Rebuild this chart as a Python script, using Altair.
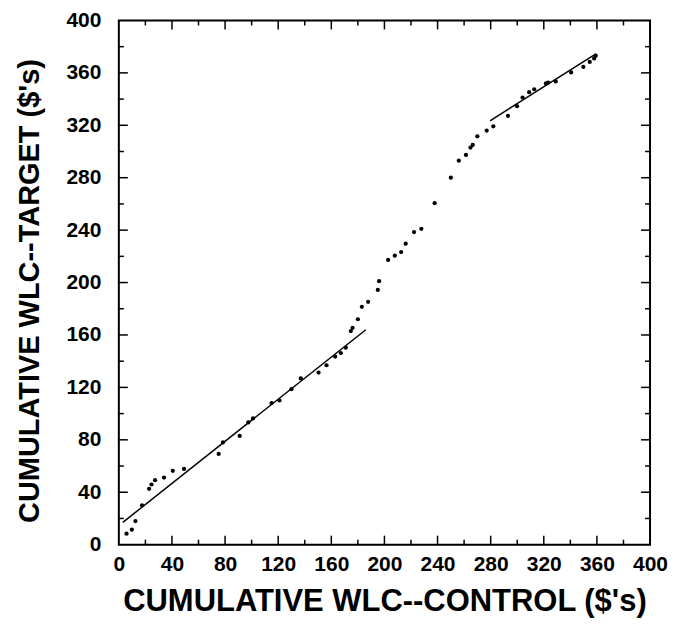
import altair as alt
import pandas as pd

# Observed points (control, target)
ctrl = [5.8, 9.8, 12.5, 17.5, 22.8, 24.6, 27.3, 34, 40.6, 49.1, 75.2, 78.4, 91, 97.5,
        101, 115, 121, 130, 137, 150.4, 156.4, 162.9, 167.2, 170.9, 174.7, 176, 180,
        183, 187.7, 195, 196, 202.8, 207.8, 212.6, 216, 222.3, 227.8, 237.8, 250, 256,
        261.4, 264.8, 266.5, 270, 277, 282, 293, 299.8, 304, 309, 312.8, 321.6, 323.3,
        329, 340.6, 349.8, 354.6, 357.9, 359.2]
target = [8.4, 11.4, 18, 30, 42.6, 45.9, 49.2, 51.2, 56.3, 57.8, 69.2, 78, 83, 93.3,
          96.3, 108, 110, 118.6, 126.8, 131.3, 136.9, 143.5, 146.2, 150.3, 163, 165.5, 172,
          181.5, 185.3, 194.4, 201, 217.3, 220.5, 223.3, 229.7, 238.5, 241, 260.6, 280, 293,
          297.4, 303, 305, 311.6, 316, 319.2, 327.2, 334.6, 341.2, 345.3, 347.5, 351.9, 352.6,
          353.5, 360.3, 364.5, 368.3, 371, 373]

# Fitted segments
fit_seg = ["lower", "lower", "upper", "upper"]
fit_x = [3, 186, 279.5, 359.5]
fit_y = [17, 164, 323.4, 374.6]

tick_labels = list(range(0, 401, 40))
minor_ticks = list(range(20, 400, 40))
major_ticks = list(range(40, 400, 40))

W, H = 532, 525
FONT = "Liberation Sans"

pts = pd.DataFrame({"x": ctrl, "y": target})
fit = pd.DataFrame({"seg": fit_seg, "x": fit_x, "y": fit_y})
minor_df = pd.DataFrame({"v": minor_ticks})
major_df = pd.DataFrame({"v": major_ticks})

xs = alt.Scale(domain=[0, 400], nice=False, zero=True)
ys = alt.Scale(domain=[0, 400], nice=False, zero=True)

points = alt.Chart(pts).mark_circle(size=18, color="black", opacity=1).encode(
    x=alt.X("x:Q", scale=xs, axis=alt.Axis(
        title="CUMULATIVE WLC--CONTROL ($'s)", values=tick_labels, grid=False,
        ticks=False, tickSize=0, domain=False, labelFont=FONT, labelFontSize=21,
        labelFontWeight="bold", labelColor="black", labelPadding=9,
        titleFont=FONT, titleFontSize=31, titleFontWeight="bold", titleColor="black",
        titlePadding=12, labelFlush=False, labelOverlap=False)),
    y=alt.Y("y:Q", scale=ys, axis=alt.Axis(
        title="CUMULATIVE WLC--TARGET ($'s)", values=tick_labels, grid=False,
        ticks=False, tickSize=0, domain=False, labelFont=FONT, labelFontSize=21,
        labelFontWeight="bold", labelColor="black", labelPadding=18,
        titleFont=FONT, titleFontSize=29, titleFontWeight="bold", titleColor="black",
        titlePadding=21, titleY=H / 2 + 8, labelFlush=False, labelOverlap=False)),
)

lines = alt.Chart(fit).mark_line(color="black", strokeWidth=1.5).encode(
    x=alt.X("x:Q", scale=xs),
    y=alt.Y("y:Q", scale=ys),
    detail="seg:N",
)


def tick_layers(df, length):
    bottom = alt.Chart(df).mark_rule(color="black", strokeWidth=1.5).encode(
        x=alt.X("v:Q", scale=xs), y=alt.value(H), y2=alt.value(H - length))
    top = alt.Chart(df).mark_rule(color="black", strokeWidth=1.5).encode(
        x=alt.X("v:Q", scale=xs), y=alt.value(0), y2=alt.value(length))
    left = alt.Chart(df).mark_rule(color="black", strokeWidth=1.5).encode(
        y=alt.Y("v:Q", scale=ys), x=alt.value(0), x2=alt.value(length))
    right = alt.Chart(df).mark_rule(color="black", strokeWidth=1.5).encode(
        y=alt.Y("v:Q", scale=ys), x=alt.value(W), x2=alt.value(W - length))
    return [bottom, top, left, right]


chart = alt.layer(
    points, lines, *tick_layers(minor_df, 5), *tick_layers(major_df, 9)
).properties(
    width=W, height=H,
    autosize=alt.AutoSizeParams(type="none"),
    padding={"left": 111, "top": 12, "right": 20, "bottom": 80},
    background="white",
).configure_view(
    stroke="black", strokeWidth=2
)

chart.save("out.html", embed_options={"renderer": "svg", "actions": False})
